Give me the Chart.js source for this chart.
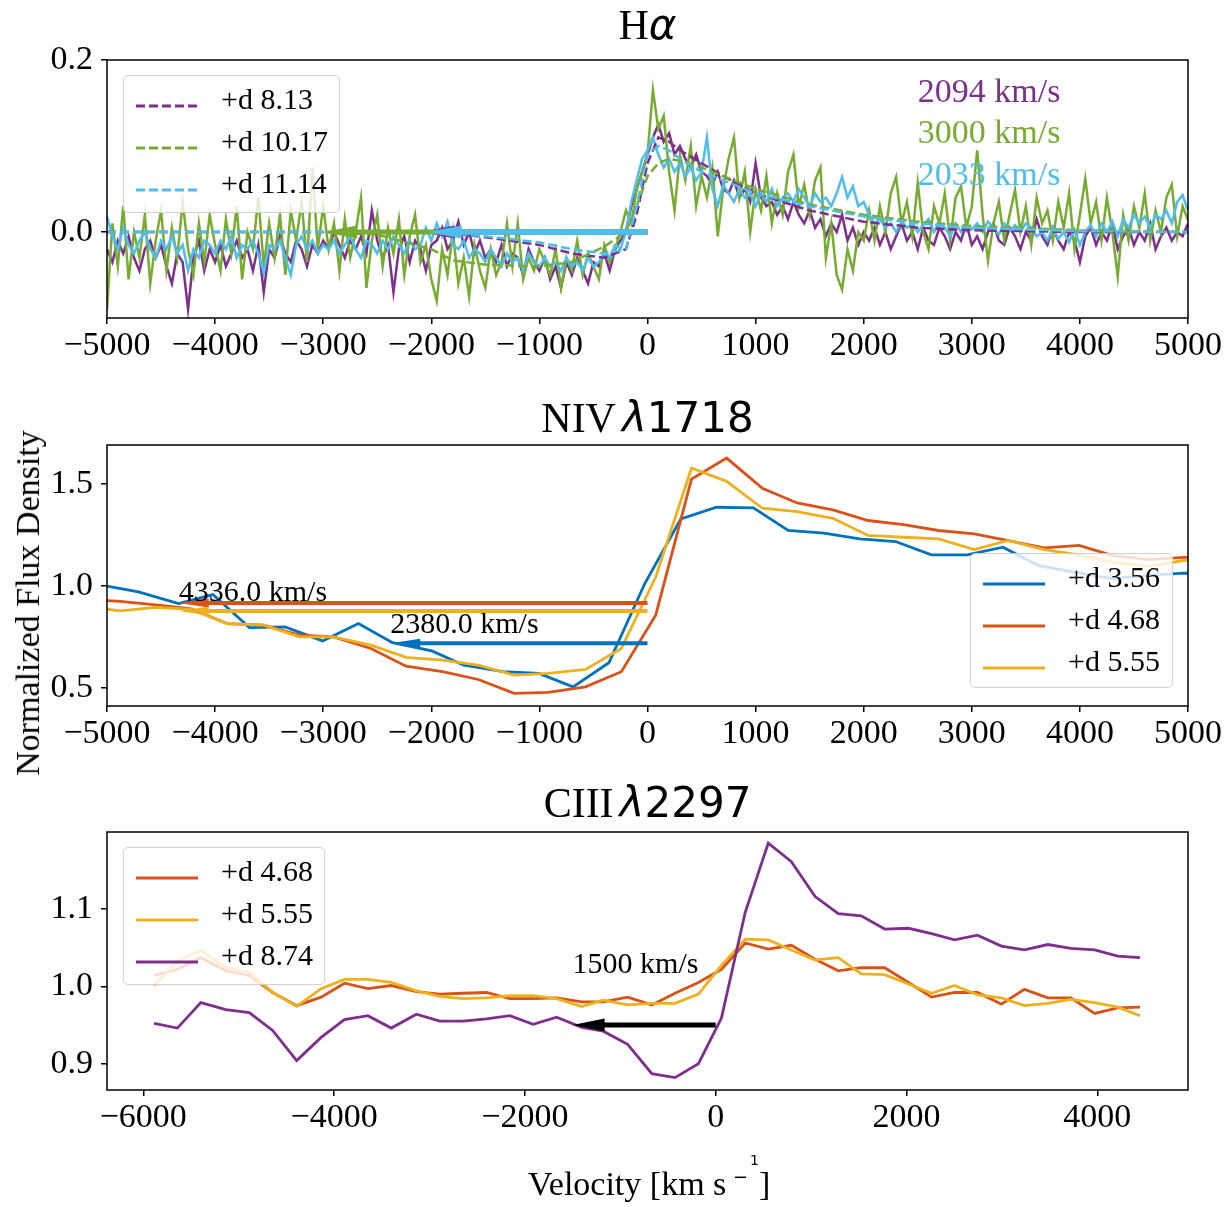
<!DOCTYPE html>
<html>
<head>
<meta charset="utf-8">
<script src="https://cdn.jsdelivr.net/npm/chart.js@4.4.0/dist/chart.umd.min.js"></script>
<style>
  body { margin: 0; background: #fff; }
  #wrap { position: relative; width: 1231px; height: 1207px; overflow: hidden; font-family: 'Liberation Serif', serif; color: #000; }
  canvas { position: absolute; left: 0; }
  .title { position: absolute; left: 0; width: 1295px; text-align: center; font-size: 42px; line-height: 42px; white-space: nowrap; z-index: 3; }
  .math { font-family: 'DejaVu Sans', sans-serif; }
  .legend { position: absolute; box-sizing: border-box; border: 1px solid #d0d0d0; border-radius: 5px; background: rgba(255,255,255,0.8); z-index: 4; }
  .txt { position: absolute; white-space: nowrap; z-index: 3; }
</style>
</head>
<body>
<div id="wrap">
  <canvas id="c1" width="1231" height="380" style="top:0px"></canvas>
  <canvas id="c2" width="1231" height="390" style="top:380px"></canvas>
  <canvas id="c3" width="1231" height="437" style="top:770px"></canvas>
  <div class="title" style="top:4px">H<span class="math" style="font-style:italic">α</span></div>
  <div class="title" style="top:397px">NIV<span class="math" style="font-style:italic; margin-left:6px">λ</span><span class="math">1718</span></div>
  <div class="title" style="top:782px">CIII<span class="math" style="font-style:italic; margin-left:6px">λ</span><span class="math">2297</span></div>
  <div class="txt" style="left:28px; top:603px; font-size:34px; line-height:34px; transform:translate(-50%,-50%) rotate(-90deg);">Normalized Flux Density</div>
</div>
<script>
// ---------- H-alpha (velocity grid, 50 km/s step) ----------
const hVel = [
  -5000,-4950,-4900,-4850,-4800,-4750,-4700,-4650,-4600,-4550,
  -4500,-4450,-4400,-4350,-4300,-4250,-4200,-4150,-4100,-4050,
  -4000,-3950,-3900,-3850,-3800,-3750,-3700,-3650,-3600,-3550,
  -3500,-3450,-3400,-3350,-3300,-3250,-3200,-3150,-3100,-3050,
  -3000,-2950,-2900,-2850,-2800,-2750,-2700,-2650,-2600,-2550,
  -2500,-2450,-2400,-2350,-2300,-2250,-2200,-2150,-2100,-2050,
  -2000,-1950,-1900,-1850,-1800,-1750,-1700,-1650,-1600,-1550,
  -1500,-1450,-1400,-1350,-1300,-1250,-1200,-1150,-1100,-1050,
  -1000,-950,-900,-850,-800,-750,-700,-650,-600,-550,
  -500,-450,-400,-350,-300,-250,-200,-150,-100,-50,
  0,50,100,150,200,250,300,350,400,450,
  500,550,600,650,700,750,800,850,900,950,
  1000,1050,1100,1150,1200,1250,1300,1350,1400,1450,
  1500,1550,1600,1650,1700,1750,1800,1850,1900,1950,
  2000,2050,2100,2150,2200,2250,2300,2350,2400,2450,
  2500,2550,2600,2650,2700,2750,2800,2850,2900,2950,
  3000,3050,3100,3150,3200,3250,3300,3350,3400,3450,
  3500,3550,3600,3650,3700,3750,3800,3850,3900,3950,
  4000,4050,4100,4150,4200,4250,4300,4350,4400,4450,
  4500,4550,4600,4650,4700,4750,4800,4850,4900,4950,
  5000
];
const hPurple = [
  -0.02,-0.035,-0.01,-0.025,-0.005,-0.03,-0.045,-0.02,-0.01,-0.03,
  -0.015,-0.04,-0.06,-0.025,-0.035,-0.09,-0.03,-0.01,-0.045,-0.02,
  -0.035,-0.015,-0.04,-0.025,-0.01,-0.03,-0.02,-0.045,-0.015,-0.07,
  -0.02,-0.03,-0.005,-0.025,-0.035,-0.01,-0.02,-0.04,-0.015,-0.025,
  -0.01,-0.02,0.0,-0.015,-0.03,-0.01,-0.02,-0.005,-0.025,0.025,
  -0.01,-0.03,-0.015,-0.07,-0.02,-0.005,-0.035,-0.01,-0.02,-0.045,
  -0.015,-0.01,0.005,-0.02,-0.01,0.012,-0.015,0.0,-0.025,-0.01,
  -0.03,-0.02,-0.035,-0.015,-0.04,-0.025,-0.03,-0.05,-0.02,-0.035,
  -0.045,-0.03,-0.055,-0.04,-0.065,-0.035,-0.05,-0.03,-0.045,-0.06,
  -0.035,-0.04,-0.025,-0.045,-0.02,-0.01,0.0,0.03,0.05,0.07,
  0.09,0.11,0.125,0.105,0.115,0.09,0.1,0.085,0.075,0.09,
  0.07,0.065,0.055,0.07,0.05,0.045,0.06,0.04,0.05,0.035,
  0.08,0.04,0.03,0.035,0.02,0.03,0.015,0.035,0.02,0.01,
  0.025,0.005,0.015,-0.005,0.01,0.0,0.02,-0.01,0.005,-0.015,
  0.0,-0.01,0.005,-0.015,0.0,-0.02,-0.005,0.01,-0.01,0.0,
  -0.02,0.005,-0.01,-0.015,0.005,-0.005,-0.02,0.0,-0.01,0.01,
  -0.015,-0.005,-0.02,0.0,0.01,-0.01,-0.015,0.005,-0.005,-0.02,
  0.0,-0.01,0.015,-0.005,-0.015,0.005,-0.01,-0.02,0.0,-0.01,
  -0.035,-0.005,0.005,-0.015,0.0,-0.01,0.01,-0.02,-0.005,0.005,
  -0.015,0.0,-0.01,0.01,-0.02,-0.005,0.005,-0.01,0.0,-0.005,
  0.01
];
const hGreen = [
  -0.09,0.01,-0.04,0.03,-0.055,0.0,-0.03,0.02,-0.06,-0.01,
  0.025,-0.045,0.005,-0.03,0.035,-0.02,-0.05,0.01,-0.035,0.02,
  -0.015,-0.045,0.015,-0.025,0.03,-0.055,0.0,-0.02,0.04,-0.04,
  0.01,-0.03,0.02,-0.05,0.025,-0.01,0.035,-0.035,0.075,-0.02,
  0.03,-0.02,0.01,-0.045,0.015,-0.03,0.0,0.04,-0.065,-0.01,
  0.02,-0.04,0.005,-0.025,0.015,-0.05,-0.005,0.02,-0.035,-0.015,
  -0.055,-0.08,-0.02,-0.05,0.0,-0.06,-0.03,-0.075,-0.015,-0.045,
  -0.065,-0.02,-0.05,-0.035,0.01,-0.04,0.01,-0.055,-0.03,-0.045,
  -0.02,-0.035,-0.05,-0.02,-0.065,-0.03,-0.045,-0.01,-0.05,-0.025,
  -0.04,-0.055,-0.015,-0.035,-0.02,0.0,0.025,0.01,0.05,0.07,
  0.09,0.165,0.12,0.135,0.07,0.025,0.09,0.06,0.1,0.03,
  0.065,0.04,0.075,-0.005,0.05,0.085,0.11,0.04,0.07,0.0,
  0.05,0.025,0.065,0.01,0.045,0.02,0.07,0.09,0.03,0.055,
  0.02,0.06,0.075,-0.03,0.01,-0.05,-0.067,-0.02,-0.045,0.0,
  -0.01,0.025,-0.01,0.03,0.0,0.045,0.064,0.01,0.035,-0.005,
  0.057,0.0,-0.02,0.03,0.01,0.045,-0.01,0.04,0.053,0.005,
  0.03,0.095,0.02,-0.033,0.01,0.035,-0.01,0.02,0.049,0.0,
  0.03,-0.015,0.04,0.01,0.025,-0.01,0.035,0.005,0.045,-0.02,
  0.02,0.062,0.01,0.035,-0.01,0.04,0.0,-0.052,0.02,-0.01,
  0.03,0.005,0.045,-0.01,0.025,0.0,0.04,0.055,-0.005,0.03,
  0.014
];
const hCyan = [
  0.018,-0.005,-0.02,0.005,-0.015,-0.025,-0.01,0.0,-0.02,-0.03,
  -0.01,-0.02,-0.005,-0.025,-0.015,-0.045,-0.02,-0.03,-0.01,-0.015,
  -0.025,-0.01,-0.02,-0.005,-0.03,-0.015,-0.02,-0.01,-0.025,-0.048,
  -0.015,-0.02,-0.01,-0.03,-0.05,-0.015,-0.005,-0.02,-0.01,-0.025,
  -0.015,-0.02,-0.01,-0.025,-0.015,-0.005,-0.02,-0.03,-0.01,-0.015,
  -0.025,-0.01,-0.02,-0.005,-0.015,-0.025,-0.01,-0.02,-0.015,0.005,
  -0.01,0.01,-0.005,0.012,-0.015,-0.02,-0.01,-0.03,-0.02,-0.025,
  -0.035,-0.02,-0.03,-0.04,-0.025,-0.035,-0.03,-0.045,-0.025,-0.035,
  -0.04,-0.03,-0.04,-0.035,-0.045,-0.03,-0.04,-0.035,-0.045,-0.03,
  -0.04,-0.035,-0.025,-0.03,-0.015,-0.02,0.0,0.035,0.06,0.085,
  0.095,0.11,0.09,0.075,0.085,0.07,0.08,0.065,0.075,0.06,
  0.07,0.11,0.05,0.03,0.055,0.045,0.035,0.05,0.04,0.045,
  0.03,0.045,0.035,0.05,0.03,0.04,0.045,0.035,0.05,0.04,
  0.03,0.045,0.035,0.04,0.03,0.045,0.064,0.04,0.053,0.03,
  0.035,0.02,0.01,0.015,0.005,0.01,0.0,0.012,0.005,0.01,
  0.0,0.008,0.015,0.0,0.01,0.005,-0.005,0.01,0.0,0.008,
  0.003,0.01,0.0,0.012,0.005,-0.003,0.01,0.002,0.008,0.0,
  0.01,0.005,-0.005,0.0,-0.01,0.005,-0.008,0.0,-0.012,0.003,
  -0.015,0.0,0.008,-0.005,0.01,0.0,0.012,-0.005,0.015,0.005,
  0.02,0.01,0.018,0.005,0.02,0.015,0.025,0.01,0.035,0.043,
  0.025
];
// model fits (dashed)
const hFitVel    = [-5000,-3000,-2500,-2000,-1800,-1500,-1000,-700,-400,-200,-100,0,100,200,300,500,700,1000,1500,2000,2500,3000,4000,5000];
const hFitPurple = [0,0,0,0,-0.002,-0.006,-0.015,-0.025,-0.03,-0.02,0.02,0.08,0.11,0.105,0.095,0.08,0.065,0.045,0.025,0.012,0.005,0.002,0,0];
const hFitGreen  = [0,0,-0.003,-0.02,-0.033,-0.038,-0.04,-0.035,-0.017,0.0,0.03,0.065,0.08,0.085,0.083,0.075,0.065,0.05,0.032,0.02,0.012,0.007,0.002,0];
const hFitCyan   = [0,0,0,0,-0.002,-0.005,-0.012,-0.02,-0.025,-0.02,0.03,0.09,0.1,0.095,0.085,0.07,0.06,0.045,0.03,0.018,0.01,0.005,0.001,0];
const hLabels = ['+d 8.13', '+d 10.17', '+d 11.14'];
const hArrowV = [2094, 3000, 2033];
const hXTicks = [-5000,-4000,-3000,-2000,-1000,0,1000,2000,3000,4000,5000];
const hYTicks = [0.0, 0.2];

// ---------- NIV 1718 ----------
const nBlueVel = [-5000,-4709,-4338,-4020,-3683,-3352,-3005,-2674,-2359,-1995,-1698,-1334,-1003,-689,-357,-26,308,639,980,1301,1632,1963,2295,2626,2957,3288,3619,3950,4298,4629,4960,5290];
const nBlue    = [1.0,0.971,0.914,0.958,0.796,0.80,0.731,0.816,0.722,0.682,0.612,0.58,0.572,0.506,0.624,1.011,1.329,1.386,1.383,1.272,1.259,1.231,1.218,1.153,1.153,1.19,1.10,1.068,1.036,1.052,1.063,1.06];
const nOYVel   = [-5208,-4878,-4548,-4218,-3888,-3550,-3220,-2905,-2558,-2234,-1896,-1565,-1234,-920,-573,-242,76,407,732,1063,1384,1715,2040,2371,2692,3023,3338,3669,3993,4298,4629,4960,5290];
const nOrange  = [0.935,0.925,0.908,0.888,0.816,0.808,0.759,0.751,0.694,0.607,0.58,0.542,0.474,0.479,0.506,0.58,0.857,1.524,1.627,1.479,1.407,1.373,1.321,1.301,1.272,1.256,1.223,1.187,1.199,1.15,1.129,1.14,1.145];
const nYellow  = [0.90,0.878,0.895,0.885,0.816,0.808,0.751,0.751,0.71,0.65,0.637,0.612,0.563,0.572,0.591,0.694,1.044,1.578,1.513,1.381,1.365,1.332,1.248,1.239,1.231,1.179,1.223,1.178,1.153,1.117,1.096,1.125,1.13];
const nLabels = ['+d 3.56', '+d 4.68', '+d 5.55'];
const nArrowV = [2380, 4336, 4336];
const nArrowLevel = [0.72, 0.917, 0.877];
const nXTicks = hXTicks;
const nYTicks = [0.5, 1.0, 1.5];

// ---------- CIII 2297 ----------
const cVel = [-5887,-5642,-5397,-5134,-4889,-4644,-4392,-4136,-3891,-3646,-3401,-3137,-2893,-2648,-2403,-2158,-1913,-1668,-1405,-1179,-923,-670,-427,-181,60,310,551,793,1042,1284,1525,1771,2020,2262,2503,2744,2994,3235,3481,3722,3972,4213,4447];
const cOrange = [1.014,1.022,1.037,1.020,1.014,0.992,0.975,0.986,1.004,0.997,1.001,0.993,0.990,0.991,0.992,0.984,0.984,0.985,0.980,0.980,0.986,0.976,0.991,1.005,1.022,1.056,1.048,1.053,1.035,1.020,1.024,1.024,1.005,0.986,0.992,0.992,0.977,0.996,0.985,0.985,0.965,0.972,0.973];
const cYellow = [1.001,1.033,1.046,1.024,1.018,0.992,0.974,0.997,1.009,1.009,1.005,0.994,0.987,0.984,0.985,0.988,0.988,0.984,0.974,0.982,0.976,0.978,0.978,0.990,1.027,1.061,1.060,1.047,1.034,1.037,1.016,1.015,1.003,0.991,1.001,0.989,0.985,0.975,0.978,0.983,0.979,0.973,0.962];
const cPurple = [0.952,0.946,0.979,0.970,0.966,0.943,0.904,0.934,0.957,0.962,0.946,0.964,0.955,0.955,0.958,0.962,0.951,0.960,0.947,0.942,0.925,0.887,0.882,0.900,0.959,1.096,1.185,1.161,1.116,1.094,1.091,1.074,1.075,1.068,1.060,1.066,1.052,1.047,1.054,1.049,1.047,1.039,1.037];
const cLabels = ['+d 4.68', '+d 5.55', '+d 8.74'];
const cArrowV = [1500];
const cArrowLevel = [0.95];
const cXTicks = [-6000,-4000,-2000,0,2000,4000];
const cYTicks = [0.9, 1.0, 1.1];

// --- colours ---
const PURPLE = '#7E2F8E', GREEN = '#77AC30', CYAN = '#4DBEEE';
const BLUE = '#0072BD', ORANGE = '#D95319', YELLOW = '#EDB120';
const SERIF = "'Liberation Serif', 'Times New Roman', serif";

Chart.defaults.animation = false;
Chart.defaults.font.family = SERIF;
Chart.defaults.color = '#000';

const pts = (xs, ys) => xs.map((v, i) => ({ x: v, y: ys[i] }));
const fmtX = v => (v < 0 ? '\u2212' + Math.abs(v) : String(v));

const framePlugin = {
    id: 'frame',
    afterDraw(chart) {
        const { ctx, chartArea: a } = chart;
        ctx.save();
        ctx.strokeStyle = '#000';
        ctx.lineWidth = 1.5;
        ctx.strokeRect(a.left, a.top, a.right - a.left, a.bottom - a.top);
        ctx.restore();
    }
};

// arrows + text notes, placed with the chart's own scales
function overlayPlugin(arrows, notes) {
    return {
        id: 'overlay',
        afterDatasetsDraw(chart) {
            const { ctx, chartArea: a, scales: { x, y } } = chart;
            ctx.save();
            ctx.beginPath();
            ctx.rect(a.left, a.top, a.right - a.left, a.bottom - a.top);
            ctx.clip();
            arrows.forEach(ar => {
                const x0 = x.getPixelForValue(0);
                const tip = x.getPixelForValue(-ar.v);
                const py = y.getPixelForValue(ar.level);
                ctx.strokeStyle = ar.color;
                ctx.fillStyle = ar.color;
                ctx.lineWidth = ar.w;
                ctx.lineCap = 'butt';
                ctx.beginPath();
                ctx.moveTo(x0, py);
                ctx.lineTo(tip + ar.hl * 0.6, py);
                ctx.stroke();
                ctx.beginPath();
                ctx.moveTo(tip, py);
                ctx.lineTo(tip + ar.hl, py - ar.hw);
                ctx.lineTo(tip + ar.hl, py + ar.hw);
                ctx.closePath();
                ctx.fill();
            });
            ctx.restore();
            ctx.save();
            notes.forEach(n => {
                ctx.font = n.size + 'px ' + SERIF;
                ctx.fillStyle = n.color;
                ctx.textAlign = 'left';
                ctx.textBaseline = 'alphabetic';
                ctx.fillText(n.text, x.getPixelForValue(n.x), y.getPixelForValue(n.y));
            });
            ctx.restore();
        }
    };
}

function makePanel(id, cfg) {
    const ctx = document.getElementById(id).getContext('2d');
    return new Chart(ctx, {
        type: 'line',
        data: { datasets: cfg.datasets },
        options: {
            responsive: false,
            devicePixelRatio: 1,
            animation: false,
            layout: { padding: { top: cfg.padTop, right: 43, left: 0, bottom: 0 } },
            elements: { point: { radius: 0 }, line: { tension: 0, borderCapStyle: 'butt' } },
            plugins: { legend: { display: false }, tooltip: { enabled: false }, title: { display: false } },
            scales: {
                x: {
                    type: 'linear', min: cfg.xMin, max: cfg.xMax,
                    afterBuildTicks: s => { s.ticks = cfg.xTicks.map(v => ({ value: v })); },
                    afterFit: s => { s.height = cfg.xAxisH; },
                    grid: { drawOnChartArea: false, color: '#000', lineWidth: 1.5, tickLength: 6 },
                    border: { display: false },
                    ticks: { font: { family: SERIF, size: 34 }, color: '#000', padding: 2, maxRotation: 0, autoSkip: false, callback: v => fmtX(v) }
                },
                y: {
                    type: 'linear', min: cfg.yMin, max: cfg.yMax,
                    afterBuildTicks: s => { s.ticks = cfg.yTicks.map(v => ({ value: v })); },
                    afterFit: s => { s.width = 107; },
                    grid: { drawOnChartArea: false, color: '#000', lineWidth: 1.5, tickLength: 6 },
                    border: { display: false },
                    ticks: { font: { family: SERIF, size: 34 }, color: '#000', padding: 8, callback: v => Number(v).toFixed(1) }
                }
            }
        },
        plugins: [overlayPlugin(cfg.arrows, cfg.notes), framePlugin]
    });
}

const solid = (label, data, color, order, w) => ({ label, data, borderColor: color, borderWidth: w || 2.8, fill: false, order });
const dashed = (label, data, color, order) => ({ label, data, borderColor: color, borderWidth: 2.5, borderDash: [9, 4], fill: false, order });

// --- H alpha ---
makePanel('c1', {
    padTop: 60, xAxisH: 62,
    xMin: -5000, xMax: 5000, xTicks: hXTicks,
    yMin: -0.1, yMax: 0.2, yTicks: hYTicks,
    datasets: [
        solid('data ' + hLabels[0], pts(hVel, hPurple), PURPLE, 5, 2.5),
        solid('data ' + hLabels[1], pts(hVel, hGreen), GREEN, 4, 2.5),
        solid('data ' + hLabels[2], pts(hVel, hCyan), CYAN, 3, 2.5),
        dashed(hLabels[0], pts(hFitVel, hFitPurple), PURPLE, 2),
        dashed(hLabels[1], pts(hFitVel, hFitGreen), GREEN, 1),
        dashed(hLabels[2], pts(hFitVel, hFitCyan), CYAN, 0)
    ],
    arrows: [
        { v: hArrowV[0], level: 0, color: PURPLE, w: 5, hl: 34, hw: 6.5 },
        { v: hArrowV[1], level: 0, color: GREEN, w: 5, hl: 34, hw: 6.5 },
        { v: hArrowV[2], level: 0, color: CYAN, w: 5.5, hl: 34, hw: 6.5 }
    ],
    notes: [
        { text: hArrowV[0] + ' km/s', x: 2500, y: 0.151, color: PURPLE, size: 34 },
        { text: hArrowV[1] + ' km/s', x: 2500, y: 0.104, color: GREEN, size: 34 },
        { text: hArrowV[2] + ' km/s', x: 2500, y: 0.055, color: CYAN, size: 34 }
    ]
});

// --- NIV ---
makePanel('c2', {
    padTop: 65, xAxisH: 64,
    xMin: -5000, xMax: 5000, xTicks: nXTicks,
    yMin: 0.412, yMax: 1.691, yTicks: nYTicks,
    datasets: [
        solid(nLabels[0], pts(nBlueVel, nBlue), BLUE, 2),
        solid(nLabels[1], pts(nOYVel, nOrange), ORANGE, 1),
        solid(nLabels[2], pts(nOYVel, nYellow), YELLOW, 0)
    ],
    arrows: [
        { v: nArrowV[0], level: nArrowLevel[0], color: BLUE, w: 4, hl: 30, hw: 4.5 },
        { v: nArrowV[1], level: nArrowLevel[1], color: ORANGE, w: 4, hl: 30, hw: 4.5 },
        { v: nArrowV[2], level: nArrowLevel[2], color: YELLOW, w: 4, hl: 30, hw: 4.5 }
    ],
    notes: [
        { text: nArrowV[1].toFixed(1) + ' km/s', x: -nArrowV[1], y: 0.926, color: '#000', size: 30 },
        { text: nArrowV[0].toFixed(1) + ' km/s', x: -nArrowV[0], y: 0.770, color: '#000', size: 30 }
    ]
});

// --- CIII ---
makePanel('c3', {
    padTop: 62, xAxisH: 117,
    xMin: -6380, xMax: 4950, xTicks: cXTicks,
    yMin: 0.866, yMax: 1.1994, yTicks: cYTicks,
    datasets: [
        solid(cLabels[0], pts(cVel, cOrange), ORANGE, 2),
        solid(cLabels[1], pts(cVel, cYellow), YELLOW, 1),
        solid(cLabels[2], pts(cVel, cPurple), PURPLE, 0)
    ],
    arrows: [
        { v: cArrowV[0], level: cArrowLevel[0], color: '#000', w: 5, hl: 32, hw: 6.5 }
    ],
    notes: [
        { text: cArrowV[0] + ' km/s', x: -cArrowV[0], y: 1.017, color: '#000', size: 30 }
    ]
});

// --- HTML legends and axis label ---
const wrap = document.getElementById('wrap');

function placeText(text, family, size, left, baseline, k) {
    const s = document.createElement('span');
    s.className = 'txt';
    s.textContent = text;
    s.style.fontFamily = family;
    s.style.fontSize = size + 'px';
    s.style.lineHeight = size + 'px';
    s.style.left = left + 'px';
    s.style.top = (baseline - k * size) + 'px';
    wrap.appendChild(s);
    return s;
}

function legend(box, labels, colors, isDashed) {
    const d = document.createElement('div');
    d.className = 'legend';
    d.style.left = box[0] + 'px';
    d.style.top = box[1] + 'px';
    d.style.width = box[2] + 'px';
    d.style.height = box[3] + 'px';
    labels.forEach((lab, i) => {
        const cy = 22 + 42 * i;
        const dash = isDashed ? ' stroke-dasharray="9 4"' : '';
        const line = document.createElement('div');
        line.style.cssText = 'position:absolute;left:12px;top:' + (cy - 3) + 'px;width:62px;height:6px;';
        line.innerHTML = '<svg width="62" height="6"><line x1="0" y1="3" x2="62" y2="3" stroke="' + colors[i] + '" stroke-width="2.8"' + dash + '/></svg>';
        d.appendChild(line);
        const t = document.createElement('span');
        t.textContent = lab;
        t.style.cssText = 'position:absolute;white-space:nowrap;left:97px;font-size:30px;line-height:30px;top:' + (cy + 11 - 0.8375 * 30) + 'px;';
        d.appendChild(t);
    });
    wrap.appendChild(d);
}

legend([123, 75, 217, 138], hLabels, [PURPLE, GREEN, CYAN], true);
legend([970, 553, 203, 135], nLabels, [BLUE, ORANGE, YELLOW], false);
legend([123, 847, 202, 138], cLabels, [ORANGE, YELLOW, PURPLE], false);

placeText('Velocity [km s', SERIF, 34, 528, 1195, 0.8375);
placeText('\u2212', "'DejaVu Sans', sans-serif", 18, 733, 1183, 0.846);
placeText('1', "'DejaVu Sans', sans-serif", 14, 750, 1165, 0.846);
placeText(']', SERIF, 34, 759, 1195, 0.8375);
</script>
</body>
</html>
